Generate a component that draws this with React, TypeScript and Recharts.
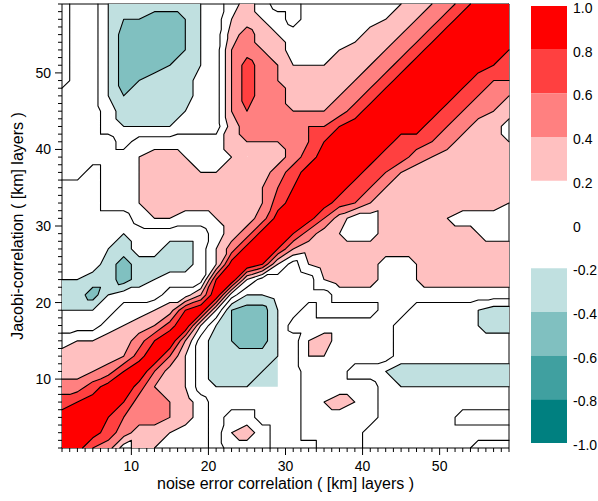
import { ScatterChart, Scatter, XAxis, YAxis, ReferenceLine, ReferenceArea } from "recharts";

// Correlation at every second layer.
// Rows run from layer 59 (top) down to layer 1, columns from layer 1 to 59.
// 0-9 = 0.0 .. 0.9, X = 1.0, a-i = -0.1 .. -0.9
const GRID_ROWS = [
  "a11bcccccba131aa1111112345799X",
  "a11bddeedba2321a111112345799X9",
  "a11beeeedba3532111113345799X99",
  "a11beeeedba454311123345799X998",
  "a11beeedcba47542223345799X9987",
  "a11bedcccaa4754333345799X99766",
  "111bdccccaa475533345799X997654",
  "111accccbaa46554445799X9976543",
  "111abbbbaaa3555566899X99765331",
  "1111a111111344456899X977653332",
  "1111123321123335799X9775433333",
  "11a112333223335799X97643333333",
  "aaa11233333334689X976433333333",
  "aaa1123333333479X9764333333332",
  "aaaaa1221123359X96311333321111",
  "aaaabaaaaa1359X853211333333211",
  "aaabcaacca259X8433333333333333",
  "aaacecccca29X82a23333112333333",
  "bbccecbaaa8X2aaba2333112333333",
  "ccebaaa114X1bbaaaa111111111111",
  "bbba11238X2deeba1aaaa11aaaabcc",
  "aaa12347X2bdeeb1111111aaaaabcc",
  "1223358X4acdeeba231111aaaaaaaa",
  "333347X62accccba221111aaaaaaaa",
  "33458X632acccbba111aabcccccccc",
  "5579X7432abbbbba11111abbbbbbbb",
  "789X855431aaaaaa12321aaaaaaaaa",
  "99X8655431a11aaa11111aaaaa1111",
  "9X97533211a231aa1111aaaaaaaaaa",
  "X965132111a111aaa111aaaaaaa111",
];

const FIRST_LAYER = 1;
const LAST_LAYER = 59;
const LAYER_STEP = 2;

const X_LABELS = [10, 20, 30, 40, 50];
const Y_LABELS = [10, 20, 30, 40, 50];
const CONTOUR_LEVELS = [-0.8, -0.6, -0.4, -0.2, 0, 0.2, 0.4, 0.6, 0.8];

// colour bar
const BAND_FROM = [0.8, 0.6, 0.4, 0.2, -0.4, -0.6, -0.8, -1.0];
const BAND_TO = [1.0, 0.8, 0.6, 0.4, -0.2, -0.4, -0.6, -0.8];
const BAND_COLORS = ["#ff0000", "#ff4040", "#ff8080", "#ffc0c0", "#c0e0e0", "#80c0c0", "#40a0a0", "#008080"];
const COLORBAR_TICKS = [1, 0.8, 0.6, 0.4, 0.2, 0, -0.2, -0.4, -0.6, -0.8, -1];

const FONT = "'Liberation Sans', Arial, Helvetica, sans-serif";
const LAYER_TICKS = Array.from({ length: LAST_LAYER - FIRST_LAYER + 1 }, (_, i) => FIRST_LAYER + i);

function decode(ch: string): number {
  if (ch === "X") return 1;
  if (ch >= "a" && ch <= "i") return -(ch.charCodeAt(0) - 96) / 10;
  return Number(ch) / 10;
}

const N = GRID_ROWS.length;

// nodes ordered bottom row first, left to right
const nodes: { x: number; y: number; v: number }[] = [];
for (let j = 0; j < N; j++) {
  const row = GRID_ROWS[N - 1 - j];
  for (let i = 0; i < N; i++) {
    nodes.push({ x: FIRST_LAYER + i * LAYER_STEP, y: FIRST_LAYER + j * LAYER_STEP, v: decode(row[i]) });
  }
}

const fillSteps = BAND_COLORS.map((color, k) => {
  const positive = BAND_FROM[k] >= 0;
  return { t: positive ? BAND_FROM[k] : BAND_TO[k], above: positive, color };
}).sort((a, b) => Math.abs(a.t) - Math.abs(b.t));

type Pt = { x: number; y: number; v: number };

function clip(tri: Pt[], t: number, above: boolean): Pt[] {
  const out: Pt[] = [];
  for (let k = 0; k < tri.length; k++) {
    const a = tri[k];
    const b = tri[(k + 1) % tri.length];
    const ain = above ? a.v >= t : a.v <= t;
    const bin = above ? b.v >= t : b.v <= t;
    if (ain) out.push(a);
    if (ain !== bin) {
      const f = (t - a.v) / (b.v - a.v);
      out.push({ x: a.x + f * (b.x - a.x), y: a.y + f * (b.y - a.y), v: t });
    }
  }
  return out;
}

const r = (n: number) => n.toFixed(2);

// join the per-triangle pieces of one level into polylines
function chain(segs: [string, string][]): string {
  const ends = new Map<string, number[]>();
  segs.forEach(([p, q], k) => {
    if (!ends.has(p)) ends.set(p, []);
    if (!ends.has(q)) ends.set(q, []);
    ends.get(p)!.push(k);
    ends.get(q)!.push(k);
  });
  const used = new Array(segs.length).fill(false);
  const next = (pt: string) => {
    const list = ends.get(pt) || [];
    for (const k of list) {
      if (!used[k]) {
        used[k] = true;
        return segs[k][0] === pt ? segs[k][1] : segs[k][0];
      }
    }
    return null;
  };
  let d = "";
  segs.forEach(([p, q], k) => {
    if (used[k]) return;
    used[k] = true;
    const line = [p, q];
    let t = next(q);
    while (t) {
      line.push(t);
      t = next(t);
    }
    let h = next(p);
    while (h) {
      line.unshift(h);
      h = next(h);
    }
    d += "M" + line.join("L");
  });
  return d;
}

function ContourField(props: any) {
  const pts = props.points as { x: number; y: number }[] | undefined;
  if (!pts || pts.length !== nodes.length) return null;
  const at = (i: number, j: number): Pt => ({ x: pts[j * N + i].x, y: pts[j * N + i].y, v: nodes[j * N + i].v });

  const tris: Pt[][] = [];
  for (let j = 0; j < N - 1; j++) {
    for (let i = 0; i < N - 1; i++) {
      const a = at(i, j), b = at(i + 1, j), c = at(i + 1, j + 1), d = at(i, j + 1);
      tris.push([a, b, c], [a, c, d]);
    }
  }

  const fills = fillSteps.map((s) => {
    let d = "";
    for (const tri of tris) {
      const poly = clip(tri, s.t, s.above);
      if (poly.length < 3) continue;
      d += "M" + poly.map((p) => r(p.x) + " " + r(p.y)).join("L") + "Z";
    }
    return { d, color: s.color };
  });

  let lines = "";
  for (const L of CONTOUR_LEVELS) {
    const segs: [string, string][] = [];
    for (const tri of tris) {
      const cross: string[] = [];
      for (let e = 0; e < 3; e++) {
        const a = tri[e];
        const b = tri[(e + 1) % 3];
        if ((a.v >= L) !== (b.v >= L)) {
          const f = (L - a.v) / (b.v - a.v);
          cross.push(r(a.x + f * (b.x - a.x)) + " " + r(a.y + f * (b.y - a.y)));
        }
      }
      if (cross.length === 2 && cross[0] !== cross[1]) segs.push([cross[0], cross[1]]);
    }
    lines += chain(segs);
  }

  return (
    <g>
      {fills.map((f, k) => (
        <path key={k} d={f.d} fill={f.color} stroke="none" />
      ))}
      <path d={lines} fill="none" stroke="#000" strokeWidth={1.1} strokeLinejoin="round" strokeLinecap="round" />
    </g>
  );
}

const NoDot = () => <g />;

function XTick(props: any) {
  const { x, y, payload } = props;
  const major = X_LABELS.includes(payload.value);
  return (
    <g>
      <line x1={x} x2={x} y1={y} y2={y + (major ? 7 : 4)} stroke="#000" />
      {major && (
        <text x={x} y={y + 23} textAnchor="middle" fontSize={14} fontFamily={FONT} fill="#000">
          {payload.value}
        </text>
      )}
    </g>
  );
}

function YTick(props: any) {
  const { x, y, payload } = props;
  const major = Y_LABELS.includes(payload.value);
  return (
    <g>
      <line x1={x - (major ? 7 : 4)} x2={x} y1={y} y2={y} stroke="#000" />
      {major && (
        <text x={x - 11} y={y + 5} textAnchor="end" fontSize={14} fontFamily={FONT} fill="#000">
          {payload.value}
        </text>
      )}
    </g>
  );
}

function BarTick(props: any) {
  const { x, y, payload } = props;
  const v = payload.value;
  return (
    <text x={x} y={y + 7} textAnchor="start" fontSize={14} fontFamily={FONT} fill="#000">
      {v === 0 ? "0" : v.toFixed(1)}
    </text>
  );
}

export default function App() {
  const bandMids = BAND_FROM.map((lo, k) => ({ x: 0.5, y: (lo + BAND_TO[k]) / 2 }));
  return (
    <div style={{ position: "absolute", left: 0, top: 0, width: 598, height: 501, background: "#fff", fontFamily: FONT }}>
      <div style={{ position: "absolute", left: 0, top: 0 }}>
        <ScatterChart width={520} height={501} margin={{ top: 4, right: 11, bottom: 8, left: 0 }}>
          <XAxis
            type="number"
            dataKey="x"
            domain={[FIRST_LAYER, LAST_LAYER]}
            ticks={LAYER_TICKS}
            interval={0}
            tickLine={false}
            tickSize={0}
            tickMargin={0}
            tick={<XTick />}
            axisLine={{ stroke: "#000" }}
            height={45}
            label={{
              value: "noise error correlation ( [km] layers )",
              position: "insideBottom",
              offset: 4,
              fill: "#000",
              style: { fontSize: 16, fontFamily: FONT, fill: "#000" },
            }}
          />
          <YAxis
            type="number"
            dataKey="y"
            domain={[FIRST_LAYER, LAST_LAYER]}
            ticks={LAYER_TICKS}
            interval={0}
            tickLine={false}
            tickSize={0}
            tickMargin={0}
            tick={<YTick />}
            axisLine={{ stroke: "#000" }}
            width={62}
            label={{
              value: "Jacobi-correlation ( [km] layers )",
              angle: -90,
              position: "insideLeft",
              offset: 17,
              fill: "#000",
              style: { fontSize: 16, fontFamily: FONT, fill: "#000", textAnchor: "middle" },
            }}
          />
          <Scatter
            data={nodes}
            shape={NoDot}
            line={<ContourField />}
            lineType="joint"
            isAnimationActive={false}
          />
          <ReferenceLine
            segment={[
              { x: FIRST_LAYER, y: FIRST_LAYER },
              { x: LAST_LAYER, y: LAST_LAYER },
            ]}
            stroke="#111"
            strokeWidth={1.1}
          />
          <ReferenceLine y={LAST_LAYER} stroke="#000" strokeWidth={1} />
          <ReferenceLine x={LAST_LAYER} stroke="#000" strokeWidth={1} />
        </ScatterChart>
      </div>
      <div style={{ position: "absolute", left: 520, top: 0 }}>
        <ScatterChart width={78} height={501} margin={{ top: 6, right: 0, bottom: 58, left: 11 }}>
          <XAxis type="number" dataKey="x" domain={[0, 1]} hide />
          <YAxis
            type="number"
            dataKey="y"
            orientation="right"
            domain={[-1, 1]}
            ticks={COLORBAR_TICKS}
            interval={0}
            width={31}
            axisLine={false}
            tickLine={false}
            tickSize={6}
            tickMargin={0}
            tick={<BarTick />}
          />
          {BAND_COLORS.map((color, k) => (
            <ReferenceArea
              key={k}
              x1={0}
              x2={1}
              y1={BAND_FROM[k]}
              y2={BAND_TO[k]}
              fill={color}
              fillOpacity={1}
              stroke="none"
            />
          ))}
          <Scatter data={bandMids} shape={NoDot} isAnimationActive={false} />
        </ScatterChart>
      </div>
    </div>
  );
}
